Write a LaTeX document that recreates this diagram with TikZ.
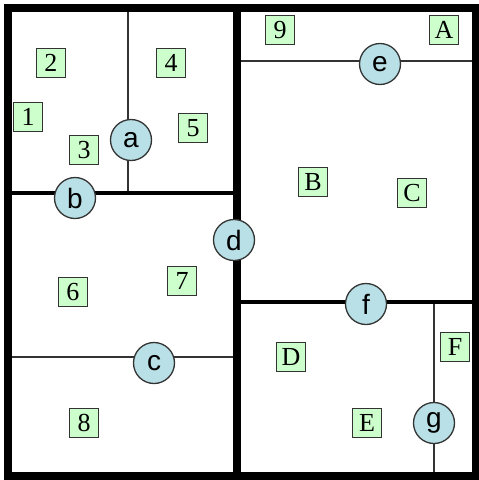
\documentclass[tikz,border=0pt]{standalone}
\usepackage{fontspec}
\setmainfont{Liberation Serif}
\setsansfont{Liberation Sans}
\usetikzlibrary{positioning}
\definecolor{cellgreen}{HTML}{CCFFCC}
\definecolor{splitblue}{HTML}{B8E0E6}
\definecolor{edgegray}{HTML}{333333}

\begin{document}
\begin{tikzpicture}[
  x=1pt, y=-1pt,
  wall/.style={line width=8pt, line cap=rect},
  cut/.style={line width=4.5pt},
  thin/.style={line width=1.2pt, color=edgegray},
  pt/.style={rectangle, draw=edgegray, fill=cellgreen, line width=1pt,
             font=\fontsize{26}{26}\selectfont, inner sep=0pt,
             minimum width=29pt, minimum height=29pt},
  split/.style={circle, draw=edgegray, fill=splitblue, line width=1.3pt,
                font=\sffamily\fontsize{28}{28}\selectfont, inner sep=0pt,
                minimum size=41pt},
]
\useasboundingbox (0,0) rectangle (479,480);

%% corners of the outer frame
\coordinate (nw) at (8,8);
\coordinate (se) at (476,476);

%% thin splits (drawn first, circles sit on top)
\draw[thin] (128,8)   -- (128,193);
\draw[thin] (237,61)  -- (476,61);
\draw[thin] (8,357)   -- (237,357);
\draw[thin] (434,302) -- (434,476);

%% thick splits
\draw[cut] (8,193)   -- (237,193);
\draw[cut] (237,302) -- (476,302);
\draw[wall] (237,8)  -- (237,476);

%% outer frame
\draw[wall] (nw) rectangle (se);

%% split nodes
\node[split] (a) at (131,140) {a};
\node[split] (b) at (75,198)  {b};
\node[split] (c) at (154,363) {c};
\node[split] (d) at (234,240) {d};
\node[split] (e) at (380,64)  {e};
\node[split] (f) at (366,304) {f};
\node[split] (g) at (434,423) {g};

%% points
\node[pt] (p1) at (28,117)  {1};
\node[pt] (p2) at (51,63)   {2};
\node[pt] (p3) at (84,150)  {3};
\node[pt] (p4) at (171,63)  {4};
\node[pt] (p5) at (193,128) {5};
\node[pt] (p6) at (73,292)  {6};
\node[pt] (p7) at (182,281) {7};
\node[pt] (p8) at (84,423)  {8};
\node[pt] (p9) at (280,30)  {9};
\node[pt] (pA) at (444,30)  {A};
\node[pt] (pB) at (313,182) {B};
\node[pt] (pC) at (412,193) {C};
\node[pt] (pD) at (291,357) {D};
\node[pt] (pE) at (367,423) {E};
\node[pt] (pF) at (455,347) {F};

\end{tikzpicture}
\end{document}
